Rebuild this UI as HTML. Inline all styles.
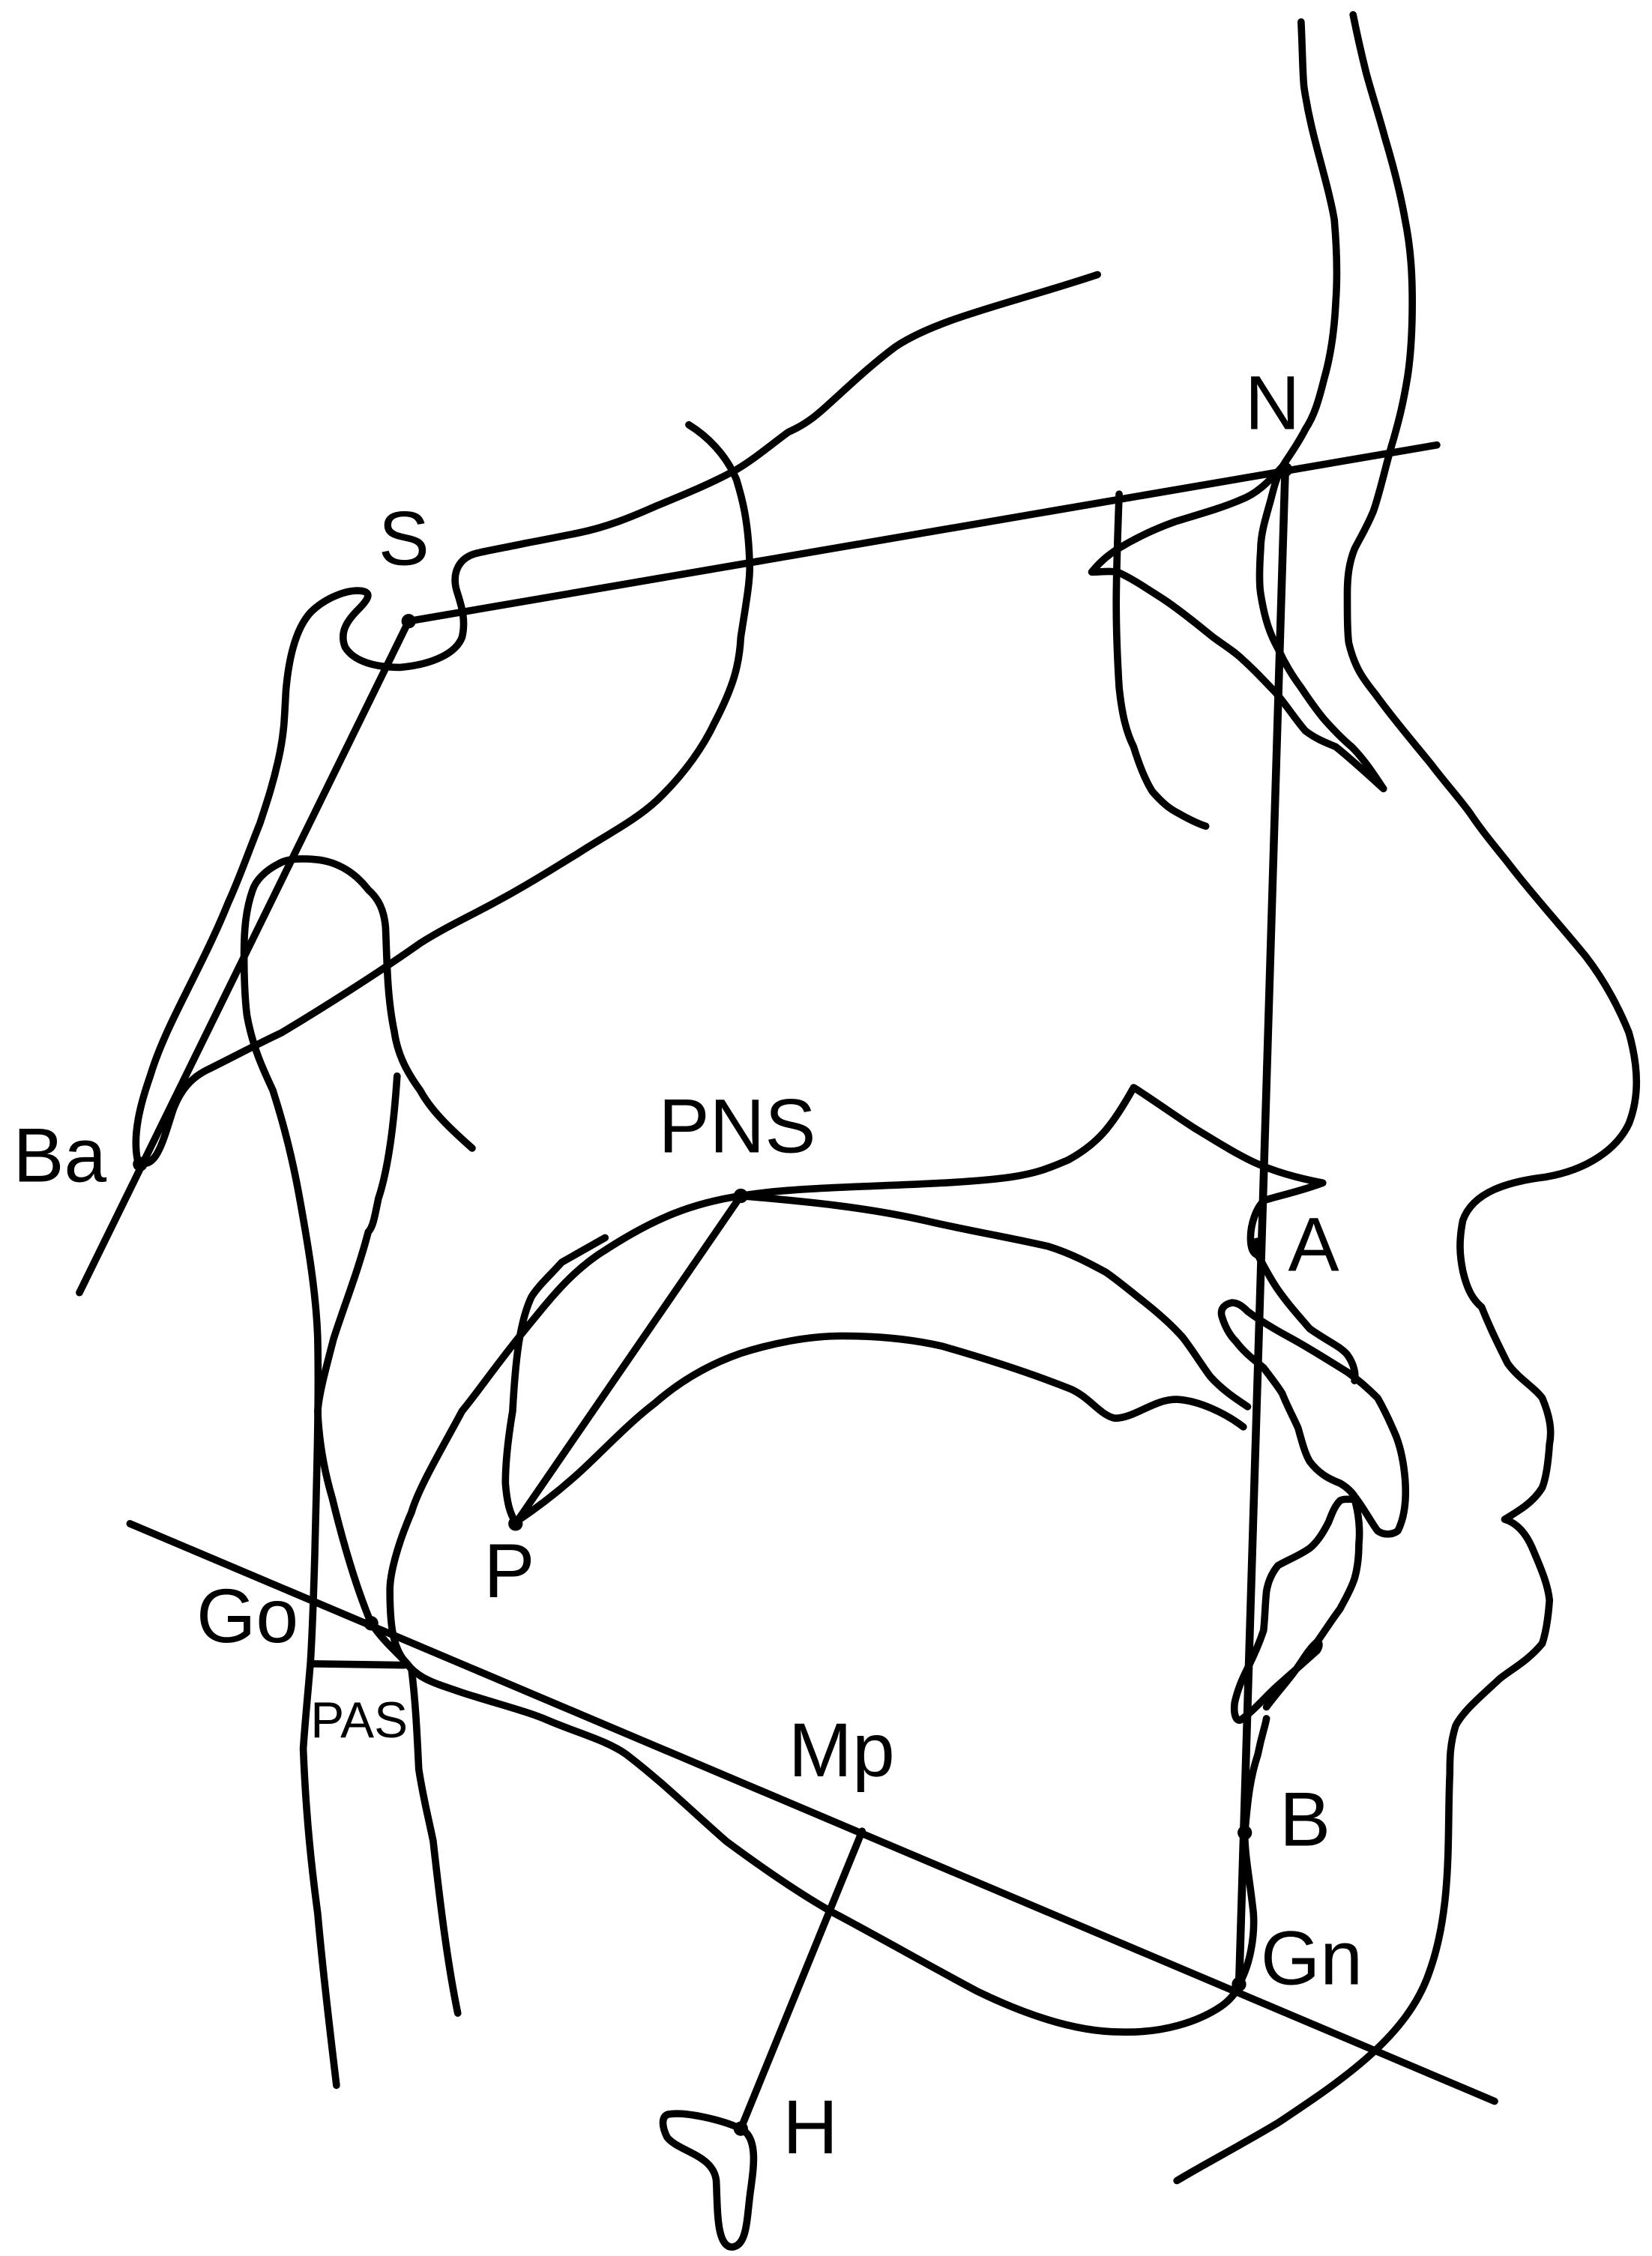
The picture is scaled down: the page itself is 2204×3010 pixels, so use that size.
<!DOCTYPE html>
<html><head><meta charset="utf-8"><style>
html,body{margin:0;padding:0;background:#fff;}
svg{display:block;}
text{font-family:"Liberation Sans",Arial,sans-serif;fill:#000;}
</style></head><body>
<svg width="2204" height="3010" viewBox="0 0 1144 1562" xmlns="http://www.w3.org/2000/svg">
<g fill="none" stroke="#000" stroke-width="5" stroke-linecap="round" stroke-linejoin="round">
<line x1="283" y1="430" x2="995" y2="308"/>
<line x1="283" y1="430" x2="55" y2="895"/>
<line x1="890" y1="325" x2="858" y2="1376" stroke-width="5.5"/>
<line x1="513" y1="828" x2="357" y2="1055"/>
<line x1="90" y1="1055" x2="1035" y2="1455"/>
<line x1="597" y1="1268" x2="513" y2="1474"/>
<line x1="215" y1="1152" x2="280" y2="1153"/>
<path d="M901,15 C902,35 902,50 903,60 C906,80 910,95 914,110 C918,125 922,140 924,152 C926,175 926,195 925,209 C924,230 921,248 917,262 C913,278 910,288 904,297 C899,307 893,315 888,323 C884,330 882,338 880,346 C876,360 873,370 873,380 C872,395 872,405 873,411 C876,430 880,440 885,449 C890,460 895,468 901,476 C907,485 912,492 917,498 C925,507 930,512 936,517 C945,526 952,537 958,546"/>
<path d="M888,323 C878,334 870,342 859,346 C845,352 830,356 814,361 C800,366 787,372 774,380 C766,385 760,391 756,396 C762,396 768,395 774,396 C785,401 795,408 806,415 C818,423 830,433 840,441 C848,447 855,451 861,457 C870,465 876,472 883,479 C890,487 897,498 904,506 C912,512 918,514 925,517 C935,525 946,535 958,546"/>
<path d="M775,342 C774,370 773,395 773,418 C773,440 774,460 775,476 C777,495 780,507 785,517 C789,530 793,540 798,548 C805,556 810,560 816,563 C823,567 829,570 835,572"/>
<path d="M937,10 C940,25 943,38 946,50 C950,65 955,80 959,95 C965,115 970,135 973,152 C977,172 978,190 978,209 C978,228 977,245 975,259 C972,278 969,290 965,304 C960,320 956,340 951,354 C946,366 942,372 938,380 C934,390 933,400 933,411 C933,425 933,437 934,445 C938,462 944,470 952,480 C965,498 978,513 991,529 C1000,541 1010,552 1018,563 C1028,578 1037,588 1044,597 C1060,618 1080,640 1098,662 C1112,680 1122,700 1128,715 C1135,740 1135,760 1128,778 C1120,795 1100,810 1070,815 C1045,818 1020,825 1013,845 C1010,860 1011,870 1013,880 C1016,893 1020,900 1026,905 C1032,920 1038,932 1044,944 C1052,955 1062,960 1068,968 C1073,980 1075,990 1073,1000 C1072,1015 1070,1025 1068,1030 C1062,1040 1052,1046 1042,1052 C1052,1055 1058,1064 1062,1074 C1068,1088 1072,1098 1073,1108 C1072,1122 1070,1132 1068,1138 C1058,1150 1048,1155 1039,1162 C1025,1175 1013,1185 1008,1195 C1004,1208 1004,1218 1004,1228 C1002,1270 1006,1320 990,1365 C975,1410 930,1440 885,1470 C860,1485 835,1498 815,1510"/>
<path d="M760,190 C700,210 650,220 620,240 C600,255 585,270 568,285 C560,292 553,296 546,299 C535,307 522,318 510,325 C492,335 472,343 455,350 C437,358 420,365 400,369 C385,372 375,374 364,376 C350,379 338,381 330,383"/>
<path d="M330,383 C318,386 313,396 316,408 C319,418 323,428 320,441 C316,452 300,460 277,462 C260,462 245,458 239,448 C235,438 240,430 248,422 C255,415 258,410 250,409 C240,408 225,414 215,424 C205,435 200,455 198,478 C197,495 197,505 194,520 C190,540 185,555 180,570 C172,590 165,610 158,625 C150,645 140,665 130,685 C120,705 110,725 104,745 C97,765 92,785 95,802 C98,808 104,806 108,800 C113,792 116,780 120,768 C125,755 132,746 145,740 C165,730 180,722 195,715 C220,700 260,675 291,653 C310,641 330,632 346,623 C370,610 385,600 400,591 C420,578 440,568 455,554 C475,535 488,515 495,500 C508,475 512,460 513,441 C517,415 520,400 519,387 C518,360 514,345 510,332 C503,315 490,302 477,294"/>
<path d="M327,795 C310,780 298,768 291,755 C280,740 275,728 273,714 C268,690 268,665 267,642 C266,630 262,622 255,616 C245,603 232,596 218,595 C205,594 198,595 193,598 C183,603 177,610 175,616 C170,630 169,645 169,660 C169,680 170,695 171,703 C175,725 182,740 189,755 C197,780 203,805 207,827 C213,860 219,895 220,927 C221,975 219,1030 218,1076 C217,1110 216,1135 215,1151 C213,1175 211,1195 210,1211 C212,1260 216,1295 220,1325 C224,1370 229,1410 233,1444"/>
<path d="M275,745 C272,790 267,815 262,830 C259,845 258,850 255,853 C248,880 238,905 231,927 C225,950 221,965 220,977 C221,1000 225,1020 230,1037 C238,1070 247,1100 257,1124 C268,1140 280,1148 285,1156 C288,1180 289,1205 290,1225 C293,1245 297,1260 300,1275 C305,1320 310,1360 317,1394"/>
<path d="M513,828 C480,833 454,843 420,865 C395,880 379,902 360,925 C340,950 330,965 320,977 C305,1005 290,1030 285,1047 C275,1070 270,1090 270,1101 C270,1125 272,1140 280,1150 C290,1163 300,1165 320,1172 C345,1180 365,1185 379,1191 C400,1200 420,1205 434,1215 C460,1235 480,1255 503,1275 C530,1295 555,1312 578,1325 C610,1342 645,1362 677,1379 C710,1395 745,1407 776,1407 C805,1408 830,1400 846,1389 C853,1384 857,1378 858,1374 C866,1360 869,1340 868,1325 C866,1305 862,1285 862,1270 C864,1245 866,1230 871,1215 C874,1200 876,1196 877,1190"/>
<path d="M513,828 C560,820 650,822 700,815 C720,812 728,808 740,803 C760,792 770,780 785,753 C795,759 810,770 827,781 C845,792 858,800 869,805 C880,810 895,815 916,819 C900,825 885,828 876,831 C870,835 866,848 866,857 C866,865 868,868 871,869 C876,878 880,886 885,893 C892,903 900,912 907,920 C918,928 928,932 933,938 C938,945 939,952 938,956"/>
<path d="M513,828 C560,832 600,836 640,845 C670,852 700,857 726,863 C742,868 755,875 766,881 C776,888 784,895 793,902 C803,910 812,918 819,926 C826,935 832,945 838,953 C846,962 855,968 864,974"/>
<path d="M419,857 C405,865 396,870 389,874 C380,884 373,890 368,898 C360,915 357,940 355,977 C352,995 350,1012 350,1027 C351,1040 353,1048 357,1054"/>
<path d="M357,1054 C375,1042 390,1030 404,1017 C420,1002 436,985 453,972 C470,957 490,945 513,937 C535,930 560,925 583,925 C608,925 630,927 652,932 C680,940 712,950 742,962 C755,968 762,980 772,982 C786,982 800,968 816,969 C830,970 848,978 861,988"/>
<path d="M853,902 C848,903 845,906 846,911 C848,918 851,924 856,929 C862,937 869,942 875,947 C881,955 885,960 888,965 C892,975 896,982 899,989 C902,1000 904,1007 907,1012 C913,1020 920,1024 928,1027 C933,1030 936,1033 938,1036 C945,1045 950,1055 954,1060 C958,1063 964,1063 968,1060 C973,1050 974,1037 973,1024 C972,1012 970,1003 967,995 C962,983 958,975 954,968 C946,960 940,955 933,950 C920,942 906,933 893,926 C882,920 872,914 864,908 C860,904 857,902 853,902"/>
<path d="M938,1038 C932,1038 930,1038 928,1039 C924,1043 922,1049 920,1054 C916,1062 912,1068 907,1072 C900,1077 892,1080 885,1084 C880,1090 878,1096 877,1102 C876,1112 876,1120 875,1129 C872,1138 868,1147 864,1155 C860,1163 857,1170 855,1179 C854,1187 856,1192 859,1191 C868,1185 877,1174 885,1167 C895,1158 904,1150 912,1143 C914,1140 914,1137 912,1137 C906,1142 902,1150 896,1158 C890,1166 882,1175 877,1182"/>
<path d="M938,1038 C941,1048 942,1060 941,1069 C941,1078 940,1086 938,1093 C935,1102 931,1108 928,1114 C922,1122 917,1130 912,1137"/>
<path d="M463,1464 C475,1462 500,1468 513,1474 C525,1480 522,1500 520,1515 C517,1535 518,1555 507,1556 C496,1556 497,1530 496,1510 C494,1492 470,1490 462,1480 C458,1472 458,1465 463,1464Z"/>
</g>
<g fill="#000">
<circle cx="283" cy="430" r="5"/><circle cx="890" cy="325" r="5"/>
<circle cx="97" cy="806" r="5"/><circle cx="513" cy="828" r="5"/>
<circle cx="357" cy="1055" r="5"/><circle cx="871" cy="862" r="5"/>
<circle cx="257" cy="1124" r="5"/><circle cx="862" cy="1269" r="5"/>
<circle cx="858" cy="1374" r="5"/><circle cx="513" cy="1474" r="5"/>
</g>
<g font-size="53">
<text x="262" y="391">S</text>
<text x="862" y="297">N</text>
<text x="9" y="818">Ba</text>
<text x="456" y="798">PNS</text>
<text x="892" y="880">A</text>
<text x="335" y="1106">P</text>
<text x="136" y="1137">Go</text>
<text x="546" y="1230">Mp</text>
<text x="886" y="1278">B</text>
<text x="873" y="1374">Gn</text>
<text x="542" y="1491">H</text>
</g>
<text x="215" y="1203" font-size="35">PAS</text>
</svg>
</body></html>
